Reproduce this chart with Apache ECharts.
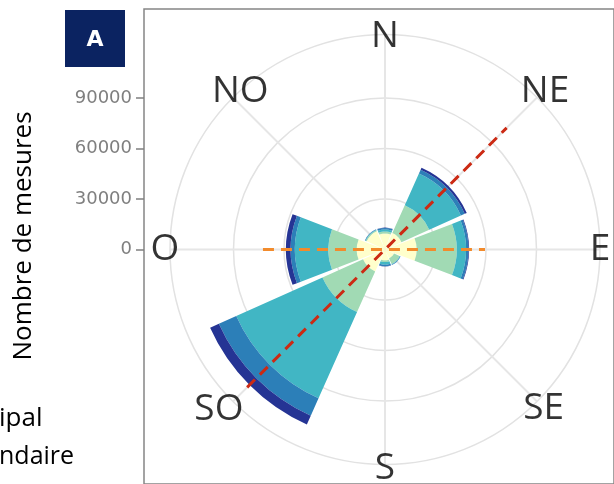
<!DOCTYPE html>
<html><head><meta charset="utf-8">
<script src="https://cdn.jsdelivr.net/npm/echarts@6/dist/echarts.min.js"></script>
<style>html,body{margin:0;padding:0;background:#fff}#c{width:614px;height:484px}</style>
</head><body><div id="c"></div>
<script>
// ---- data ----
const directions = ['N', 'NE', 'E', 'SE', 'S', 'SO', 'O', 'NO'];
const directionAngles = [0, 45, 90, 135, 180, 225, 270, 315];
const class1 = [9500, 10700, 18800, 5900, 6500, 14300, 16800, 11900];
const class2 = [1200, 18100, 23800, 3600, 900, 26400, 16900, 600];
const class3 = [1200, 20600, 5500, 300, 1600, 56100, 19800, 300];
const class4 = [900, 2500, 1400, 300, 1000, 11300, 2500, 300];
const class5 = [300, 1300, 400, 0, 100, 5700, 2800, 0];
const yTicks = [0, 30000, 60000, 90000];
const principalAngles = [225, 45];
const principalLengths = [115800, 102200];
const secondaryAngles = [270, 90];
const secondaryLengths = [72500, 59400];
const panelLabel = 'A';
const yTitle = 'Nombre de mesures';
const legendFragments = ['ipal', 'ndaire'];

// ---- layout / style ----
const classColors = ['#ffffcc', '#a1dab4', '#41b6c4', '#2c7fb8', '#253494'];
const CX = 385, CY = 249.5, R_OUT = 215, R_90 = 151.5, R_LABEL = 240;
const labelRadiusPx = [213.5, 225.2, 215, 224.4, 218.5, 230.9, 220, 214.6];
const labelAngleShift = [0, 0.3, 0, 0, 0, 1, 0, 2.6];
const yMax = yTicks[yTicks.length - 1];
const yStep = yTicks[1] - yTicks[0];
const rMax = yMax * R_OUT / R_90;

const chart = echarts.init(document.getElementById('c'), null, {renderer: 'canvas'});
const classes = [class1, class2, class3, class4, class5];

const barSeries = classes.map((vals, i) => ({
  type: 'bar', coordinateSystem: 'polar', polarIndex: 0, stack: 'rose',
  data: vals, barCategoryGap: '7%',
  itemStyle: {color: classColors[i]}, z: 2, silent: true
}));

function axisLine(angles, lengths) {
  return [[lengths[0], angles[0]], [0, angles[0]], [lengths[1], angles[1]]];
}

// label anchor points, in a polar whose outer radius is R_LABEL px (value = px)
const labelPoints = directions.map((d, i) => [labelRadiusPx[i], directionAngles[i] + labelAngleShift[i]]);

const option = {
  animation: false,
  grid: [
    {left: 144, top: 98, width: 10, height: R_90, show: false},
    {left: 144, top: 9, width: 520, height: 520, show: true, borderColor: '#858585', borderWidth: 1.5, backgroundColor: 'transparent'}
  ],
  xAxis: [
    {gridIndex: 0, type: 'value', show: false},
    {gridIndex: 1, type: 'value', show: false}
  ],
  yAxis: [
    {gridIndex: 0, type: 'value', min: yTicks[0], max: yMax, interval: yStep,
     axisLine: {show: false},
     axisTick: {show: true, length: 8, lineStyle: {color: '#808080', width: 1.5}},
     axisLabel: {margin: 12, color: '#7f7f7f', fontFamily: 'DejaVu Sans', fontSize: 18,
       formatter: v => String(v)},
     splitLine: {show: false}},
    {gridIndex: 1, type: 'value', show: false}
  ],
  polar: [
    {center: [CX, CY], radius: [0, R_OUT]},
    {center: [CX, CY], radius: [0, R_OUT]},
    {center: [CX, CY], radius: [0, R_90]},
    {center: [CX, CY], radius: [0, R_LABEL]}
  ],
  angleAxis: [
    {polarIndex: 0, type: 'category', data: directions, startAngle: 112.5, clockwise: true,
     axisLine: {show: false}, axisTick: {show: false}, axisLabel: {show: false},
     splitLine: {show: false}, splitArea: {show: false}},
    {polarIndex: 1, type: 'value', min: 0, max: 360, interval: 45, startAngle: 90, clockwise: true,
     axisLine: {show: true, lineStyle: {color: '#e2e2e2', width: 1.5}},
     axisTick: {show: false},
     axisLabel: {show: false},
     splitLine: {show: true, lineStyle: {color: '#e6e6e6', width: 2}},
     splitArea: {show: false}},
    {polarIndex: 2, type: 'value', min: 0, max: 360, show: false},
    {polarIndex: 3, type: 'value', min: 0, max: 360, startAngle: 90, clockwise: true, show: false}
  ],
  radiusAxis: [
    {polarIndex: 0, type: 'value', min: 0, max: rMax, show: false},
    {polarIndex: 1, type: 'value', min: 0, max: rMax, show: false},
    {polarIndex: 2, type: 'value', min: yTicks[0], max: yMax, interval: yStep,
     axisLine: {show: false}, axisTick: {show: false}, axisLabel: {show: false},
     splitLine: {show: true, lineStyle: {color: '#e2e2e2', width: 1.5}}, splitArea: {show: false}},
    {polarIndex: 3, type: 'value', min: 0, max: R_LABEL, show: false}
  ],
  series: barSeries.concat([
    {type: 'line', coordinateSystem: 'polar', polarIndex: 1, data: axisLine(secondaryAngles, secondaryLengths),
     showSymbol: false, symbol: 'none', z: 6, silent: true,
     lineStyle: {color: '#f28b2c', width: 3, type: [11, 7]}},
    {type: 'line', coordinateSystem: 'polar', polarIndex: 1, data: axisLine(principalAngles, principalLengths),
     showSymbol: false, symbol: 'none', z: 7, silent: true,
     lineStyle: {color: '#cc2a14', width: 3, type: [11, 7]}},
    {type: 'scatter', coordinateSystem: 'polar', polarIndex: 3, data: labelPoints, clip: false,
     symbolSize: 1, itemStyle: {color: 'rgba(0,0,0,0)'}, z: 8, silent: true,
     label: {show: true, position: 'inside', formatter: p => directions[p.dataIndex],
       fontSize: 37, fontFamily: 'Open Sans', color: '#000'}}
  ]),
  graphic: [
    {type: 'rect', left: 65, top: 10, shape: {width: 60, height: 57}, style: {fill: '#0b2361'}, z: 10},
    {type: 'text', x: 95, y: 40, z: 11,
     style: {text: panelLabel, fill: '#fff', font: 'bold 22px "DejaVu Sans"', align: 'center', verticalAlign: 'middle'}},
    {type: 'text', x: 24, y: 236, rotation: Math.PI / 2, z: 11,
     style: {text: yTitle, fill: '#000', font: '26px "Open Sans"', align: 'center', verticalAlign: 'middle'}},
    {type: 'text', x: -1, y: 419, z: 11,
     style: {text: legendFragments[0], fill: '#000', font: '26px "Open Sans"', align: 'left', verticalAlign: 'middle'}},
    {type: 'text', x: -1, y: 457, z: 11,
     style: {text: legendFragments[1], fill: '#000', font: '25px "Open Sans"', align: 'left', verticalAlign: 'middle'}}
  ]
};
chart.setOption(option);
</script>
</body></html>
